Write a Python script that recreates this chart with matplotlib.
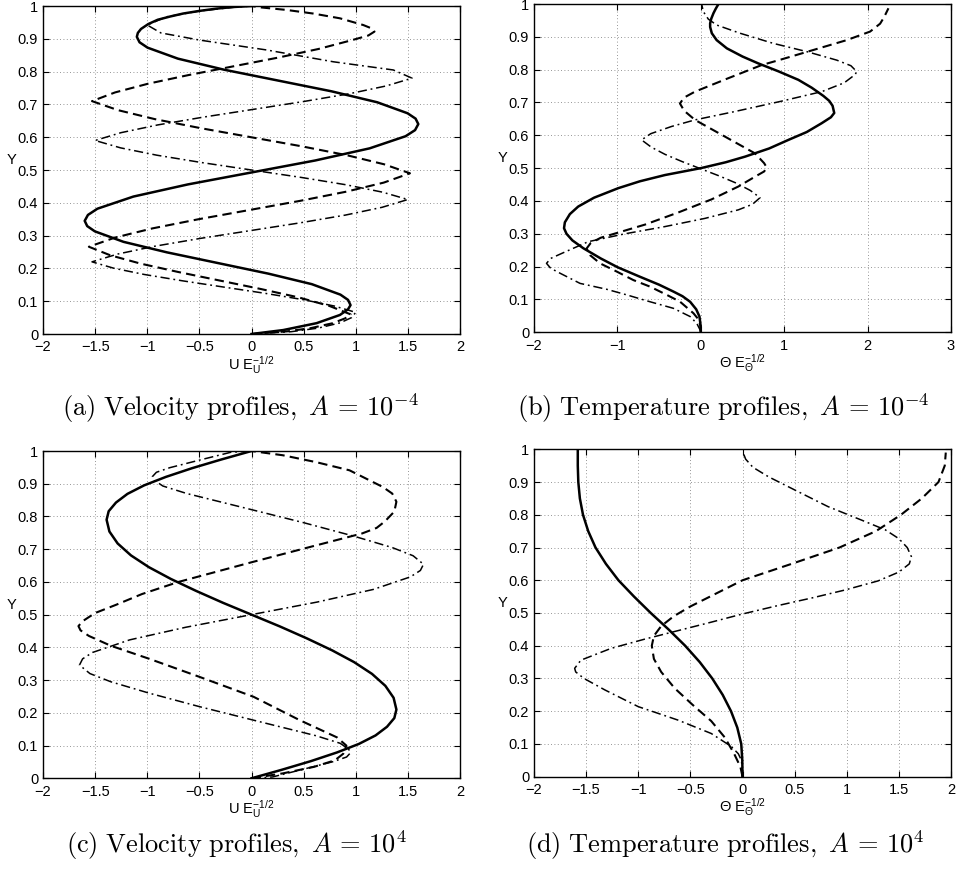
import matplotlib
matplotlib.use('Agg')
import matplotlib.pyplot as plt

plt.rcParams['font.family'] = ['Liberation Sans', 'DejaVu Sans']
plt.rcParams['mathtext.fontset'] = 'custom'
plt.rcParams['mathtext.rm'] = 'Liberation Sans'
plt.rcParams['mathtext.it'] = 'Liberation Sans:italic'
plt.rcParams['mathtext.bf'] = 'Liberation Sans:bold'

# ---- (a) velocity, A = 1e-4
a_solid_y = [0, 0.012, 0.033, 0.058, 0.075, 0.088, 0.104, 0.120, 0.152, 0.184, 0.2165, 0.249, 0.281, 0.313,
             0.329, 0.345, 0.363, 0.382, 0.419, 0.456, 0.4925, 0.529, 0.566, 0.603, 0.6216, 0.64, 0.6566,
             0.673, 0.7065, 0.74, 0.773, 0.806, 0.8395, 0.873, 0.8894, 0.906, 0.918, 0.93, 0.945, 0.958,
             0.968, 0.977, 0.985, 0.992, 0.997, 1.0]
a_solid_x = [0, 0.304, 0.624, 0.848, 0.925, 0.95, 0.926, 0.853, 0.578, 0.162, -0.325, -0.812, -1.228, -1.503,
             -1.576, -1.6, -1.569, -1.478, -1.133, -0.611, 0.0, 0.611, 1.133, 1.478, 1.569, 1.6, 1.574,
             1.497, 1.206, 0.766, 0.25, -0.266, -0.706, -0.997, -1.074, -1.1, -1.09, -1.06, -0.99, -0.9,
             -0.78, -0.656, -0.5, -0.336, -0.17, 0.0]
a_dash_y = [0, 0.008, 0.018, 0.033, 0.048, 0.06,
            0.0858, 0.1115, 0.137, 0.163, 0.189, 0.2145, 0.240, 0.266,
            0.294, 0.322, 0.35, 0.378, 0.406, 0.434, 0.4616, 0.49,
            0.5175, 0.545, 0.5725, 0.6, 0.6275, 0.655, 0.6825, 0.71,
            0.7365, 0.763, 0.7895, 0.816, 0.8425, 0.869, 0.8955, 0.91, 0.922, 0.932,
            0.942, 0.9625, 0.977, 0.988, 0.996, 1.0]
a_dash_x = [0, 0.34, 0.57, 0.78, 0.9, 0.95,
            0.745, 0.453, 0.092, -0.305, -0.702, -1.063, -1.355, -1.56,
            -1.309, -0.950, -0.507, -0.02, 0.467, 0.910, 1.269, 1.52,
            1.271, 0.916, 0.477, -0.005, -0.487, -0.926, -1.281, -1.53,
            -1.309, -0.993, -0.603, -0.175, 0.253, 0.643, 0.959, 1.12, 1.18, 1.15,
            1.072, 0.848, 0.592, 0.336, 0.08, 0.0]
a_dd_y = [0, 0.007, 0.018, 0.034, 0.05, 0.066,
          0.0853, 0.1045, 0.1238, 0.143, 0.1623, 0.1815, 0.2008, 0.22,
          0.2438, 0.2675, 0.2913, 0.315, 0.3388, 0.3625, 0.3863, 0.41,
          0.4325, 0.455, 0.4775, 0.5, 0.5225, 0.545, 0.5675, 0.59,
          0.6138, 0.6375, 0.6613, 0.685, 0.7088, 0.7325, 0.7563, 0.78,
          0.805, 0.83, 0.866, 0.896, 0.918, 0.942, 0.967, 0.985, 0.996, 1.0]
a_dd_x = [0, 0.38, 0.64, 0.85, 0.96, 1.0,
          0.794, 0.499, 0.135, -0.265, -0.665, -1.029, -1.324, -1.53,
          -1.283, -0.930, -0.494, -0.015, 0.464, 0.900, 1.253, 1.5,
          1.256, 0.906, 0.474, 0.0, -0.474, -0.906, -1.256, -1.5,
          -1.252, -0.898, -0.460, 0.02, 0.500, 0.938, 1.292, 1.54,
          1.36, 0.784, 0.144, -0.496, -0.87, -1.0, -0.816, -0.496, -0.176, 0.0]

# ---- (b) temperature, A = 1e-4
b_solid_y = [0, 0.02, 0.048, 0.07, 0.093, 0.11, 0.124, 0.145, 0.169, 0.198, 0.225, 0.256, 0.28, 0.3,
             0.317, 0.335, 0.36, 0.383, 0.41, 0.439, 0.46, 0.479, 0.5, 0.518, 0.535, 0.56, 0.586,
             0.61, 0.637, 0.655, 0.668, 0.69, 0.705, 0.72, 0.745, 0.769, 0.795, 0.819, 0.84, 0.865,
             0.89, 0.911, 0.93, 0.941, 0.955, 0.972, 0.986, 1.0]
b_solid_x = [0, -0.002, -0.016, -0.055, -0.128, -0.22, -0.328, -0.5, -0.728, -0.996, -1.2, -1.408, -1.54, -1.61,
             -1.64, -1.63, -1.57, -1.47, -1.28, -0.99, -0.73, -0.43, 0.0, 0.3, 0.53, 0.82, 1.05,
             1.27, 1.45, 1.56, 1.6, 1.58, 1.54, 1.47, 1.33, 1.17, 0.93, 0.69, 0.5, 0.312,
             0.19, 0.132, 0.112, 0.112, 0.125, 0.152, 0.18, 0.212]
b_dash_y = [0, 0.02, 0.04, 0.058, 0.093, 0.114, 0.139, 0.159, 0.185, 0.21, 0.235, 0.255, 0.272, 0.288,
            0.303, 0.328, 0.365, 0.405, 0.444, 0.474, 0.49, 0.502, 0.515, 0.545, 0.596, 0.647, 0.675,
            0.697, 0.715, 0.733, 0.774, 0.814, 0.83, 0.86, 0.89, 0.916, 0.94, 0.961, 0.987]
b_dash_x = [0, -0.005, -0.03, -0.088, -0.248, -0.408, -0.608, -0.808, -1.008, -1.208, -1.328, -1.37, -1.32, -1.2,
            -1.0, -0.67, -0.27, 0.13, 0.45, 0.65, 0.76, 0.79, 0.76, 0.65, 0.29, -0.07, -0.2,
            -0.25, -0.2, -0.07, 0.33, 0.73, 0.95, 1.35, 1.75, 2.03, 2.15, 2.2, 2.25]
b_dd_y = [0, 0.007, 0.027, 0.048, 0.073, 0.093, 0.114, 0.131, 0.149, 0.18, 0.195, 0.21, 0.225, 0.24,
          0.276, 0.30, 0.322, 0.347, 0.373, 0.39, 0.41,
          0.432, 0.454, 0.476, 0.498, 0.52, 0.542, 0.564, 0.586,
          0.605, 0.627, 0.647, 0.672, 0.703, 0.733, 0.76, 0.785, 0.794, 0.812, 0.829, 0.855,
          0.88, 0.911, 0.936, 0.954, 0.977, 1.0]
b_dd_x = [0, -0.008, -0.048, -0.128, -0.328, -0.608, -0.888, -1.128, -1.448, -1.688, -1.8, -1.85, -1.8, -1.67,
          -1.35, -0.91, -0.43, 0.05, 0.45, 0.62, 0.71,
          0.594, 0.429, 0.224, 0.0, -0.224, -0.429, -0.594, -0.71,
          -0.6, -0.35, -0.07, 0.4, 0.95, 1.45, 1.72, 1.85, 1.87, 1.8, 1.63, 1.27,
          0.87, 0.47, 0.19, 0.09, 0.03, 0.01]

# ---- (c) velocity, A = 1e4
c_solid_y = [0, 0.026, 0.0525, 0.079, 0.105, 0.131, 0.1575, 0.184, 0.21, 0.246, 0.2825, 0.319, 0.355,
             0.391, 0.4275, 0.464, 0.5, 0.536, 0.5725, 0.609, 0.645, 0.681, 0.7175, 0.754, 0.79,
             0.816, 0.8425, 0.869, 0.895, 0.921, 0.9475, 0.974, 1.0]
c_solid_x = [0, 0.29, 0.57, 0.82, 1.03, 1.19, 1.3, 1.37, 1.39, 1.363, 1.284, 1.156, 0.984,
             0.773, 0.531, 0.272, 0.0, -0.272, -0.531, -0.773, -0.984, -1.156, -1.284, -1.363, -1.39,
             -1.37, -1.3, -1.19, -1.03, -0.82, -0.57, -0.29, 0.0]
c_dash_y = [0, 0.015, 0.035, 0.055, 0.075, 0.1, 0.125, 0.178, 0.249, 0.31, 0.365, 0.405, 0.435, 0.452,
            0.465, 0.48, 0.505, 0.53, 0.563, 0.6, 0.66, 0.71, 0.748, 0.765, 0.785, 0.815, 0.845,
            0.87, 0.89, 0.941, 0.966, 0.987, 1.0]
c_dash_x = [0, 0.3, 0.6, 0.8, 0.88, 0.91, 0.82, 0.46, 0.02, -0.5, -0.98, -1.35, -1.56, -1.64,
            -1.66, -1.62, -1.5, -1.3, -1.05, -0.7, 0.0, 0.6, 1.06, 1.2, 1.28, 1.37, 1.39,
            1.35, 1.26, 0.94, 0.62, 0.3, 0.0]
c_dd_y = [0, 0.004, 0.025, 0.051, 0.065, 0.078, 0.09, 0.107, 0.13, 0.168, 0.219, 0.26, 0.295, 0.32,
          0.346, 0.365, 0.3845, 0.423, 0.4615, 0.5, 0.5385, 0.577, 0.6155, 0.635, 0.654,
          0.68, 0.705, 0.74, 0.781, 0.832, 0.87, 0.893, 0.91, 0.922, 0.935, 0.949, 0.975, 0.996, 1.0]
c_dd_x = [0, 0.2, 0.464, 0.784, 0.912, 0.95, 0.93, 0.85, 0.62, 0.14, -0.5, -0.98, -1.35, -1.55,
          -1.65, -1.62, -1.525, -1.168, -0.63, 0.0, 0.63, 1.168, 1.525, 1.62, 1.65,
          1.55, 1.35, 0.98, 0.5, -0.14, -0.62, -0.85, -0.93, -0.95, -0.912, -0.784, -0.464, -0.2, 0.0]

# ---- (d) temperature, A = 1e4
d_solid_y = [0, 0.05, 0.1, 0.15, 0.2, 0.25, 0.3, 0.35, 0.4, 0.45, 0.5, 0.55, 0.6, 0.65, 0.7, 0.75,
             0.8, 0.85, 0.9, 0.95, 1.0]
d_solid_x = [0, -0.002, -0.012, -0.05, -0.11, -0.19, -0.29, -0.41, -0.55, -0.71, -0.88, -1.04, -1.19,
             -1.31, -1.41, -1.48, -1.53, -1.56, -1.575, -1.58, -1.58]
d_dash_y = [0, 0.03, 0.07, 0.12, 0.17, 0.22, 0.27, 0.32, 0.36, 0.40, 0.43, 0.46, 0.49, 0.52, 0.56, 0.60,
            0.65, 0.70, 0.75, 0.80, 0.85, 0.90, 0.95, 0.99]
d_dash_x = [0, -0.02, -0.08, -0.17, -0.3, -0.48, -0.65, -0.78, -0.85, -0.87, -0.85, -0.78, -0.66, -0.5,
            -0.25, 0.0, 0.47, 0.93, 1.28, 1.52, 1.72, 1.88, 1.94, 1.95]
d_dd_y = [0, 0.02, 0.05, 0.07, 0.092, 0.132, 0.173, 0.214, 0.265, 0.3, 0.32, 0.331, 0.356, 0.392,
          0.42, 0.446, 0.472, 0.497, 0.522, 0.547, 0.57, 0.598, 0.625, 0.65, 0.672, 0.7, 0.727,
          0.754, 0.784, 0.825, 0.876, 0.916, 0.945, 0.97, 0.995]
d_dd_x = [0, -0.002, -0.01, -0.04, -0.106, -0.3, -0.62, -1.0, -1.32, -1.52, -1.6, -1.61, -1.55, -1.26,
          -0.94, -0.62, -0.3, 0.0, 0.33, 0.68, 0.98, 1.3, 1.5, 1.6, 1.62, 1.58, 1.5,
          1.37, 1.14, 0.82, 0.5, 0.25, 0.1, 0.03, 0.0]

y_ticks = [0, 0.1, 0.2, 0.3, 0.4, 0.5, 0.6, 0.7, 0.8, 0.9, 1.0]
y_tick_labels = ['0', '0.1', '0.2', '0.3', '0.4', '0.5', '0.6', '0.7', '0.8', '0.9', '1']
x_ticks_u = [-2, -1.5, -1, -0.5, 0, 0.5, 1, 1.5, 2]
x_labels_u = ['\u22122', '\u22121.5', '\u22121', '\u22120.5', '0', '0.5', '1', '1.5', '2']
x_ticks_t = [-2, -1, 0, 1, 2, 3]
x_labels_t = ['\u22122', '\u22121', '0', '1', '2', '3']

captions = [r'$\mathrm{(a)\ Velocity\ profiles,}\ A\,=\,10^{-4}$',
            r'$\mathrm{(b)\ Temperature\ profiles,}\ A\,=\,10^{-4}$',
            r'$\mathrm{(c)\ Velocity\ profiles,}\ A\,=\,10^{4}$',
            r'$\mathrm{(d)\ Temperature\ profiles,}\ A\,=\,10^{4}$']
xlab_u = r'U E$_\mathrm{U}^{-1/2}$'
xlab_t = r'$\Theta$ E$_\Theta^{-1/2}$'

W, H = 958, 871
fig = plt.figure(figsize=(W / 100, H / 100), dpi=100)

boxes = [(43, 6, 460, 334), (534, 4, 951, 332.3), (43, 451, 460, 778.3), (534, 449.3, 951, 776.7)]
cap_pos = [(240, 408), (723, 408), (236, 845), (725, 845)]

panels = [
    (a_solid_x, a_solid_y, a_dash_x, a_dash_y, a_dd_x, a_dd_y, x_ticks_u, x_labels_u, xlab_u, (-2, 2)),
    (b_solid_x, b_solid_y, b_dash_x, b_dash_y, b_dd_x, b_dd_y, x_ticks_t, x_labels_t, xlab_t, (-2, 3)),
    (c_solid_x, c_solid_y, c_dash_x, c_dash_y, c_dd_x, c_dd_y, x_ticks_u, x_labels_u, xlab_u, (-2, 2)),
    (d_solid_x, d_solid_y, d_dash_x, d_dash_y, d_dd_x, d_dd_y, x_ticks_u, x_labels_u, xlab_t, (-2, 2)),
]

for i, p in enumerate(panels):
    sx, sy, dx, dy, ddx, ddy, xt, xtl, xlab, xlim = p
    l, t, r, b = boxes[i]
    ax = fig.add_axes([l / W, 1 - b / H, (r - l) / W, (b - t) / H])
    ax.plot(sx, sy, color='black', lw=1.8, ls='-', solid_joinstyle='round')
    ax.plot(dx, dy, color='black', lw=1.5, ls=(0, (4.5, 2.5)))
    ax.plot(ddx, ddy, color='black', lw=1.1, ls=(0, (6, 2.5, 1.2, 2.5)))
    ax.set_xlim(xlim)
    ax.set_ylim(0, 1)
    ax.set_xticks(xt)
    ax.set_xticklabels(xtl)
    ax.set_yticks(y_ticks)
    ax.set_yticklabels(y_tick_labels)
    ax.grid(True, color='0.45', ls=(0, (1, 3)), lw=0.6)
    ax.tick_params(direction='in', top=True, right=True, length=4, width=0.8, labelsize=10.5)
    ax.tick_params(axis='x', pad=4.5)
    ax.tick_params(axis='y', pad=3.5)
    for s in ax.spines.values():
        s.set_linewidth(1.0)
    ax.text(0.5, -0.06, xlab, transform=ax.transAxes, ha='center', va='top', fontsize=10.5)
    ax.text(-0.075, 0.53, 'Y', transform=ax.transAxes, ha='center', va='center', fontsize=10.5)
    cx, cy = cap_pos[i]
    fig.text(cx / W, 1 - cy / H, captions[i], ha='center', va='center', fontsize=19,
             math_fontfamily='cm')

fig.savefig('out.png', dpi=100)
